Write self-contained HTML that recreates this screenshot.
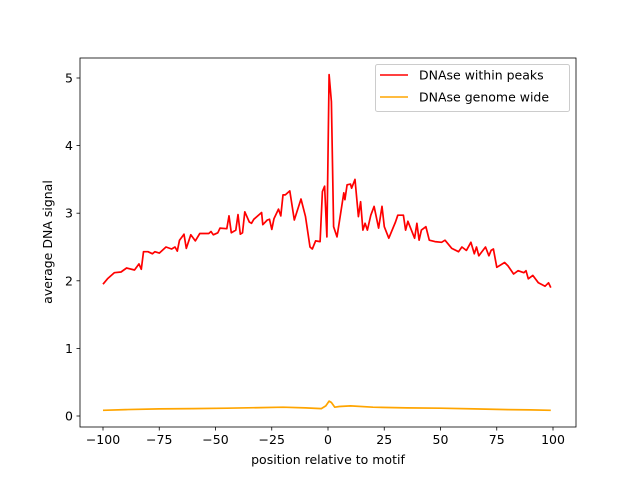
<!DOCTYPE html>
<html><head><meta charset="utf-8"><style>
body{margin:0;background:#fff}
svg text{font-family:"DejaVu Sans","Liberation Sans",sans-serif;font-size:10px;fill:#000}
</style></head><body>
<svg id="chart" width="640" height="480" viewBox="0 0 640 480" xmlns="http://www.w3.org/2000/svg">
<rect width="640" height="480" fill="#fff"/>
<g id="axes"></g>
<path id="peaks" fill="none" stroke="#ff0000" stroke-width="1.7" stroke-linejoin="round"/>
<path id="genome" fill="none" stroke="#ffa500" stroke-width="1.7" stroke-linejoin="round"/>
<rect x="80" y="58" width="496" height="369" fill="none" stroke="#000" stroke-width="0.8"/>
<text x="328" y="464" text-anchor="middle" style="font-size:12.5px">position relative to motif</text>
<text transform="translate(52,242) rotate(-90)" text-anchor="middle" style="font-size:12.5px">average DNA signal</text>
<g>
<rect x="375.5" y="64.5" width="194" height="47" rx="2" fill="#fff" fill-opacity="0.8" stroke="#ccc"/>
<line x1="380" y1="75" x2="408" y2="75" stroke="#ff0000" stroke-width="1.5"/>
<text x="419" y="79.5" style="font-size:12.5px">DNAse within peaks</text>
<line x1="380" y1="97" x2="408" y2="97" stroke="#ffa500" stroke-width="1.5"/>
<text x="419" y="101.5" style="font-size:12.5px">DNAse genome wide</text>
</g>
</svg>
<script>
const peakPos = [-100,-98,-95,-92,-89.5,-86,-84,-83,-82,-80,-78,-77,-75,-72,-69.5,-68,-67,-66,-64,-63,-61,-59,-57,-53,-52,-51,-49,-48,-45,-44,-43,-41,-40,-39,-38,-37,-35,-34,-33,-29.5,-29,-27,-26,-25,-24,-22,-21,-20,-19,-17,-15,-12,-10,-8,-7,-5.5,-3.5,-2.5,-1.5,-0.5,0.5,1.5,2.5,4,5,7,7.5,8.5,10,10.5,12,13.5,14.5,15.5,16.5,17.5,19,20.5,22.5,24,25,27,30,31,33.5,34.5,35.5,38.5,39.5,40.5,41.5,43.5,45,47.5,50.5,52,55,58,59.5,61.5,63.5,65,66,67,70,71.5,72.5,73.5,75,78.5,80,82.5,84.5,87,88,89,91,93.5,96.5,98,99];
const peakVal = [1.95,2.03,2.12,2.13,2.19,2.16,2.25,2.17,2.43,2.43,2.40,2.43,2.41,2.50,2.47,2.5,2.44,2.6,2.69,2.48,2.68,2.59,2.7,2.7,2.73,2.68,2.71,2.78,2.77,2.96,2.71,2.75,2.98,2.69,2.71,3.02,2.87,2.85,2.91,3.01,2.83,2.9,2.91,2.76,2.92,3.06,2.96,3.27,3.27,3.33,2.9,3.21,2.95,2.5,2.47,2.59,2.58,3.32,3.4,2.65,5.05,4.65,2.8,2.65,2.87,3.3,3.2,3.42,3.43,3.37,3.5,2.95,3.17,2.75,2.85,2.75,2.97,3.1,2.78,3.1,2.8,2.63,2.87,2.97,2.97,2.75,2.88,2.63,2.85,2.6,2.75,2.8,2.6,2.58,2.57,2.6,2.48,2.43,2.5,2.45,2.57,2.4,2.5,2.37,2.5,2.37,2.45,2.47,2.2,2.27,2.22,2.1,2.15,2.12,2.15,2.03,2.08,1.97,1.92,1.97,1.9,2.05];
const genomePos = [-100,-90,-75,-60,-45,-30,-20,-10,-3,-1,0.5,1.5,3,5,10,20,35,50,65,80,90,99];
const genomeVal = [0.085,0.095,0.105,0.11,0.115,0.125,0.13,0.12,0.11,0.15,0.22,0.2,0.13,0.14,0.15,0.13,0.12,0.115,0.105,0.095,0.09,0.085];
const xTicks = [-100,-75,-50,-25,0,25,50,75,100];
const yTicks = [0,1,2,3,4,5];
const xs = v => 103 + (v + 100) * 2.25;
const ys = v => 416 - v * 67.6;
const NS = "http://www.w3.org/2000/svg";
function line(pos, val){return pos.map((p,i)=>(i?"L":"M")+xs(p).toFixed(1)+","+ys(val[i]).toFixed(1)).join("");}
document.getElementById("peaks").setAttribute("d", line(peakPos, peakVal));
document.getElementById("genome").setAttribute("d", line(genomePos, genomeVal));
const ax = document.getElementById("axes");
xTicks.forEach(t=>{
  const l=document.createElementNS(NS,"line");
  
  
  l.setAttribute("x1",xs(t));l.setAttribute("x2",xs(t));l.setAttribute("y1",427);l.setAttribute("y2",430.5);l.setAttribute("stroke","#000");l.setAttribute("stroke-width","0.8");
  ax.appendChild(l);
  const tx=document.createElementNS(NS,"text");
  
  
  tx.setAttribute("x",xs(t));tx.setAttribute("y",444);tx.setAttribute("text-anchor","middle");tx.setAttribute("style","font-size:12.5px");
  tx.textContent=t<0?"\u2212"+(-t):String(t);
  ax.appendChild(tx);
});
yTicks.forEach(t=>{
  const l=document.createElementNS(NS,"line");
  
  
  l.setAttribute("x1",76.5);l.setAttribute("x2",80);l.setAttribute("y1",ys(t));l.setAttribute("y2",ys(t));l.setAttribute("stroke","#000");l.setAttribute("stroke-width","0.8");
  ax.appendChild(l);
  const tx=document.createElementNS(NS,"text");
  
  
  tx.setAttribute("x",73);tx.setAttribute("y",ys(t)+4.5);tx.setAttribute("text-anchor","end");tx.setAttribute("style","font-size:12.5px");
  tx.textContent=String(t);
  ax.appendChild(tx);
});
</script>
</body></html>
